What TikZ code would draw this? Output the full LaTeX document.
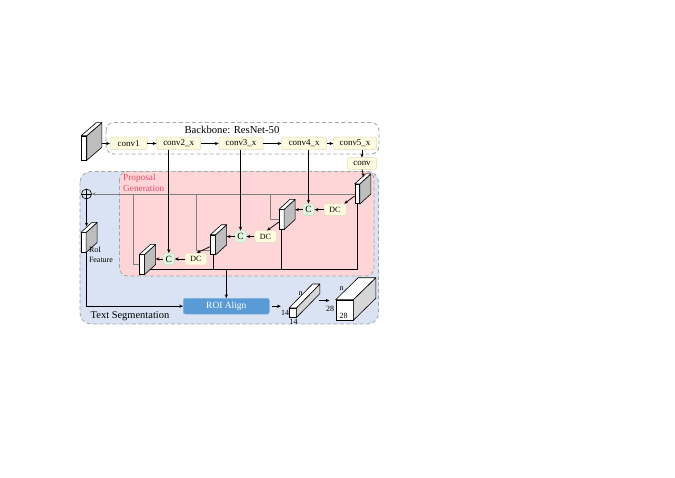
\documentclass[tikz,border=0pt]{standalone}
\usepackage{fontspec}
\setmainfont{Liberation Serif}
\usetikzlibrary{arrows.meta,calc}
\definecolor{convfill}{HTML}{FFFBE0}
\definecolor{convdraw}{HTML}{E2DEB4}
\definecolor{cfill}{HTML}{E2F5E0}
\definecolor{cdraw}{HTML}{BFDDBB}
\definecolor{pinkfill}{HTML}{FFD6D8}
\definecolor{bluefill}{HTML}{DAE3F3}
\definecolor{dashgray}{HTML}{A6A6A6}
\definecolor{roiblue}{HTML}{5B9BD5}
\definecolor{roidraw}{HTML}{7FB2E0}
\definecolor{propred}{HTML}{E04B63}
\definecolor{slabgray}{HTML}{BDBDBD}
\definecolor{cubegray}{HTML}{D6D6D6}
\definecolor{linegray}{HTML}{7F7F7F}
\newcommand{\slabfaces}[4]{%
  \filldraw[fill=#4, line width=0.6pt, line join=round] (#1.south east) -- (#1.north east) -- ($(#1.north east)+(#2,#3)$) -- ($(#1.south east)+(#2,#3)$) -- cycle;
  \filldraw[fill=white, line width=0.6pt, line join=round] (#1.north west) -- (#1.north east) -- ($(#1.north east)+(#2,#3)$) -- ($(#1.north west)+(#2,#3)$) -- cycle;
}
\begin{document}
\begin{tikzpicture}[x=1bp,y=-1bp,
  convbox/.style={draw=convdraw, fill=convfill, rounded corners=1.5bp, minimum height=12.5bp, inner sep=0pt, font=\fontsize{9}{10}\selectfont, line width=0.5pt},
  cbox/.style={draw=cdraw, fill=cfill, rounded corners=1.5bp, minimum width=11.5bp, minimum height=11.5bp, inner sep=0pt, font=\fontsize{9.5}{10}\selectfont, line width=0.5pt},
  dcbox/.style={convbox, minimum width=22bp, minimum height=11.5bp, font=\fontsize{8}{9}\selectfont},
  slabfront/.style={draw=black, fill=white, line width=0.6pt, inner sep=0pt, minimum width=4.6bp, minimum height=19.5bp},
  arr/.style={-{Stealth[length=3.8bp,width=3.2bp]}, line width=0.75pt},
  garr/.style={-{Stealth[length=3.8bp,width=3.2bp]}, draw=linegray, line width=0.85pt},
  gline/.style={draw=linegray, line width=0.85pt},
  bline/.style={draw=black, line width=0.75pt},
  dashbox/.style={draw=dashgray, dash pattern=on 4bp off 2.5bp, line width=0.8pt},
  lbl/.style={inner sep=0pt, font=\fontsize{8}{9}\selectfont}
]
\useasboundingbox (0,0) rectangle (675,478);
\fill[white] (0,0) rectangle (675,478);

% big frames
\draw[dashbox, fill=white, rounded corners=8bp] (106,122.5) rectangle (379,154);
\draw[dashbox, fill=bluefill, rounded corners=11bp] (80,171.5) rectangle (378.5,324);
\draw[dashbox, fill=pinkfill, rounded corners=8bp] (119.5,171.5) rectangle (374,276);

\node[font=\fontsize{10.7}{12}\selectfont, inner sep=0pt] (bbtitle) at (232,129.5) {Backbone: ResNet-50};
\node[anchor=north west, align=left, text=propred, font=\fontsize{9.3}{11.7}\selectfont, inner sep=0pt] (prop) at (123,173.5) {Proposal\\Generation};
\node[font=\fontsize{10.5}{12}\selectfont, inner sep=0pt] (tseg) at (130,316) {Text Segmentation};

% backbone
\node[slabfront, minimum width=5bp, minimum height=24bp] (in) at (84,148) {};
\slabfaces{in}{15}{-13}{slabgray}
\node[convbox, minimum width=37bp] (conv1) at (128.7,143.5) {conv1};
\node[convbox, minimum width=44bp] (conv2) at (178.7,143.5) {conv2\_x};
\node[convbox, minimum width=44bp] (conv3) at (241,143.5) {conv3\_x};
\node[convbox, minimum width=45bp] (conv4) at (304.2,143.5) {conv4\_x};
\node[convbox, minimum width=43bp] (conv5) at (355,143.5) {conv5\_x};
\node[convbox, minimum width=29bp, minimum height=11.6bp] (conv) at (362,163.5) {conv};
\coordinate (inout) at ($(in.east)+(15,-4.5)$);
\draw[arr] (inout) -- (conv1.west);
\draw[arr] (conv1.east) -- (conv2.west);
\draw[arr] (conv2.east) -- (conv3.west);
\draw[arr] (conv3.east) -- (conv4.west);
\draw[arr] (conv4.east) -- (conv5.west);
\draw[arr] (conv5.south -| conv.north) -- (conv.north);

% slabs in proposal generation
\node[slabfront] (slab4) at (357.2,194) {};
\slabfaces{slab4}{11}{-10}{slabgray}
\node[slabfront] (slab3) at (281.5,219.5) {};
\slabfaces{slab3}{11}{-10}{slabgray}
\node[slabfront] (slab2) at (213,244.8) {};
\slabfaces{slab2}{11}{-10}{slabgray}
\node[slabfront] (slab1) at (142,264.5) {};
\slabfaces{slab1}{11}{-10}{slabgray}

\node[cbox] (C3) at (308.5,209.7) {C};
\node[dcbox] (DC3) at (335,209.7) {DC};
\node[cbox] (C2) at (240.5,236.5) {C};
\node[dcbox] (DC2) at (265.5,236.5) {DC};
\node[cbox] (C1) at (168.8,259) {C};
\node[dcbox] (DC1) at (195.8,259) {DC};

% plus and RoI feature
\node[circle, draw, line width=0.6pt, minimum size=10bp, inner sep=0pt] (plus) at (86.5,194) {};
\draw[line width=0.6pt] (plus.north) -- (plus.south) (plus.west) -- (plus.east);
\node[slabfront] (roislab) at (83.5,242.5) {};
\slabfaces{roislab}{11}{-10}{slabgray}
\node[anchor=north west, align=left, font=\fontsize{8}{10}\selectfont, inner sep=0pt] (roilbl) at (88.8,247.5) {RoI\\Feature};

% gray lateral lines
\draw[garr] (slab4.west) -- (plus.east);
\coordinate (g1) at (133.3,194);
\coordinate (g2) at (196.5,194);
\coordinate (g3) at (270,194);
\draw[gline] (g1) |- (slab1.west);
\draw[gline] (g2) |- ($(slab2.west)+(0,6)$);
\draw[gline] (g3) |- (slab3.west);

% black conv lines
\draw[arr] (conv2.south -| C1.north) -- (C1.north);
\draw[arr] (conv3.south -| C2.north) -- (C2.north);
\draw[arr] (conv4.south -| C3.north) -- (C3.north);
\draw[arr] (conv.south) -- ($(slab4.north)+(6.5,-7)$);

% top-down path
\coordinate (s3r) at ($(slab3.east)+(11,0)$);
\coordinate (s2r) at ($(slab2.east)+(11,0)$);
\coordinate (s1r) at ($(slab1.east)+(11,0)$);
\draw[arr] ($(slab4.west)+(0,2)$) -- ($(DC3.north east)+(-2,0)$);
\draw[arr] (DC3.west) -- (C3.east);
\draw[arr] (C3.west) -- (C3.west -| s3r);
\draw[arr] ($(slab3.west)+(0,2.5)$) -- ($(DC2.north)+(1.5,0)$);
\draw[arr] (DC2.west) -- (C2.east);
\draw[arr] (C2.west) -- (C2.west -| s2r);
\draw[arr] ($(slab2.west)+(0,1.7)$) -- ($(DC1.north)+(0.8,0)$);
\draw[arr] (DC1.west) -- (C1.east);
\draw[arr] (C1.west) -- (C1.west -| s1r);

% ROI align
\node[draw=roidraw, fill=roiblue, rounded corners=2bp, minimum width=86bp, minimum height=15.7bp, inner sep=0pt, text=white, font=\fontsize{9.5}{10}\selectfont] (ROI) at (226.3,306.2) {ROI Align};
\coordinate (busL) at (149.5,269.5);
\path (slab4.south |- busL) coordinate (busR);
\draw[bline] (busL) -- (busR) -- (slab4.south);
\draw[bline] (slab2.south) -- (slab2.south |- busL);
\draw[bline] (slab3.south) -- (slab3.south |- busL);
\draw[arr] (ROI.north |- busL) -- (ROI.north);

\coordinate (roitop) at (86.5,226.5);
\coordinate (roibot) at (86.5,252);
\draw[arr] (plus.south) -- (roitop);
\draw[arr] (roibot) |- (ROI.west);

% output cuboids
\node[slabfront, minimum width=6.7bp, minimum height=9bp] (small) at (292.7,312.8) {};
\slabfaces{small}{23.5}{-24}{cubegray}
\node[slabfront, minimum width=17bp, minimum height=20bp] (big) at (344.5,310) {};
\slabfaces{big}{22.5}{-22}{cubegray}
\node[lbl] (sn) at (300.5,294) {n};
\node[lbl] (s14a) at (285,312.5) {14};
\node[lbl] (s14b) at (293.5,321.5) {14};
\node[lbl] (bn) at (341.5,289) {n};
\node[lbl] (b28a) at (330,309) {28};
\node[lbl] (b28b) at (343.5,315.5) {28};
\draw[arr, shorten <=2.5bp] (ROI.east) -- (ROI.east -| s14a.west);
\coordinate (sb1) at (318.5,300.5);
\coordinate (sb2) at (329.5,300.5);
\draw[arr] (sb1) -- (sb2);
\end{tikzpicture}
\end{document}
